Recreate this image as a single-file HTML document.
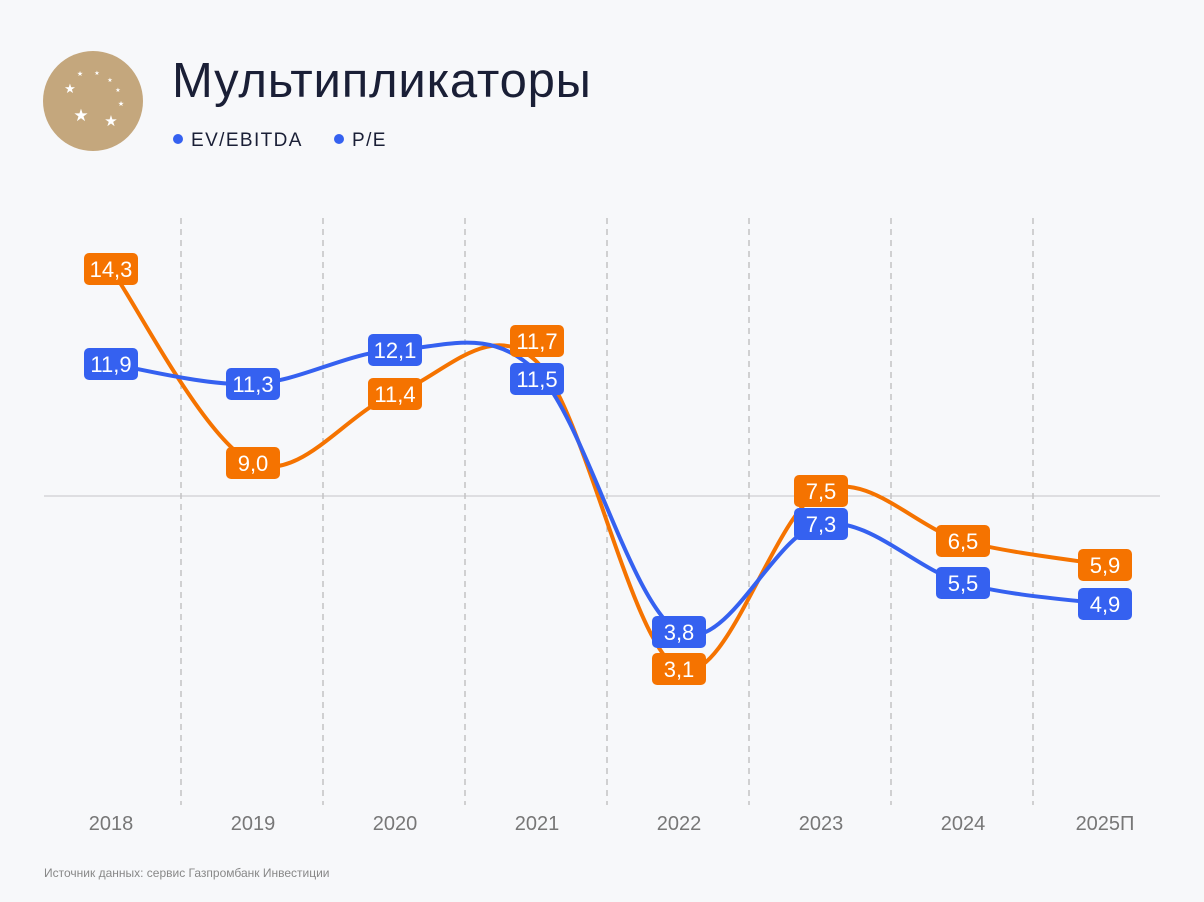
<!DOCTYPE html>
<html><head><meta charset="utf-8"><style>
body{margin:0;background:#f7f8fa;font-family:"Liberation Sans",sans-serif}
svg{display:block}
</style></head><body>
<svg id="s" width="1204" height="902" xmlns="http://www.w3.org/2000/svg">
<rect width="1204" height="902" fill="#f7f8fa"/>
<circle cx="93" cy="101" r="50" fill="#c4a77d"/>
<g fill="#fff" font-family="DejaVu Sans" text-anchor="middle">
<text x="70" y="93" font-size="13">★</text>
<text x="81" y="121" font-size="17">★</text>
<text x="111" y="126" font-size="15">★</text>
<text x="80" y="76" font-size="7">★</text>
<text x="97" y="75" font-size="6">★</text>
<text x="110" y="82" font-size="6">★</text>
<text x="118" y="92" font-size="6">★</text>
<text x="121" y="106" font-size="7">★</text>
</g>
<text x="172" y="97" font-size="49" letter-spacing="0.8" fill="#1a1f36">Мультипликаторы</text>
<circle cx="178" cy="139" r="5" fill="#3561f0"/>
<text x="191" y="146" font-size="19" letter-spacing="1.4" fill="#1a1f36">EV/EBITDA</text>
<circle cx="339" cy="139" r="5" fill="#3561f0"/>
<text x="352" y="146" font-size="19" letter-spacing="1.4" fill="#1a1f36">P/E</text>
<g stroke="#a8a8a8" stroke-dasharray="6,5" stroke-width="1">
<line x1="181" y1="218" x2="181" y2="805"/><line x1="323" y1="218" x2="323" y2="805"/>
<line x1="465" y1="218" x2="465" y2="805"/><line x1="607" y1="218" x2="607" y2="805"/>
<line x1="749" y1="218" x2="749" y2="805"/><line x1="891" y1="218" x2="891" y2="805"/>
<line x1="1033" y1="218" x2="1033" y2="805"/>
</g>
<line x1="44" y1="496" x2="1160" y2="496" stroke="#c4c4c8" stroke-width="1"/>
<path id="po" fill="none" stroke="#f57300" stroke-width="4"/>
<path id="pb" fill="none" stroke="#3561f0" stroke-width="4"/>
<g id="labels" font-size="22" fill="#fff" text-anchor="middle"></g>
<g font-size="20" fill="#777" text-anchor="middle">
<text x="111" y="830">2018</text><text x="253" y="830">2019</text><text x="395" y="830">2020</text>
<text x="537" y="830">2021</text><text x="679" y="830">2022</text><text x="821" y="830">2023</text>
<text x="963" y="830">2024</text><text x="1105" y="830">2025П</text>
</g>
<text x="44" y="877" font-size="12" fill="#888">Источник данных: сервис Газпромбанк Инвестиции</text>
</svg>
<script>
var xs=[111,253,395,537,679,821,963,1105];
var ob=[269,463,394,362,669,491,541,565], ol=[269,463,394,341,669,491,541,565];
var bb=[364,384,350,372,632,524,583,604], bl=[364,384,350,379,632,524,583,604];
var ov=["14,3","9,0","11,4","11,7","3,1","7,5","6,5","5,9"], bv=["11,9","11,3","12,1","11,5","3,8","7,3","5,5","4,9"];
function path(ys){var p=xs.map(function(x,i){return [x,ys[i]]});var d="M"+p[0];
for(var i=0;i<p.length-1;i++){var a=p[i-1]||p[i],b=p[i],c=p[i+1],e=p[i+2]||c;
d+=" C"+(b[0]+(c[0]-a[0])/6)+","+(b[1]+(c[1]-a[1])/6)+" "+(c[0]-(e[0]-b[0])/6)+","+(c[1]-(e[1]-b[1])/6)+" "+c[0]+","+c[1];}return d;}
document.getElementById("po").setAttribute("d",path(ob));
document.getElementById("pb").setAttribute("d",path(bb));
var g=document.getElementById("labels"),h="";
function lab(ys,vs,col){for(var i=0;i<8;i++){h+='<rect x="'+(xs[i]-27)+'" y="'+(ys[i]-16)+'" width="54" height="32" rx="5" fill="'+col+'"/><text x="'+xs[i]+'" y="'+(ys[i]+8)+'">'+vs[i]+'</text>';}}
lab(ol,ov,"#f57300");lab(bl,bv,"#3561f0");
g.innerHTML=h;
</script>
</body></html>
